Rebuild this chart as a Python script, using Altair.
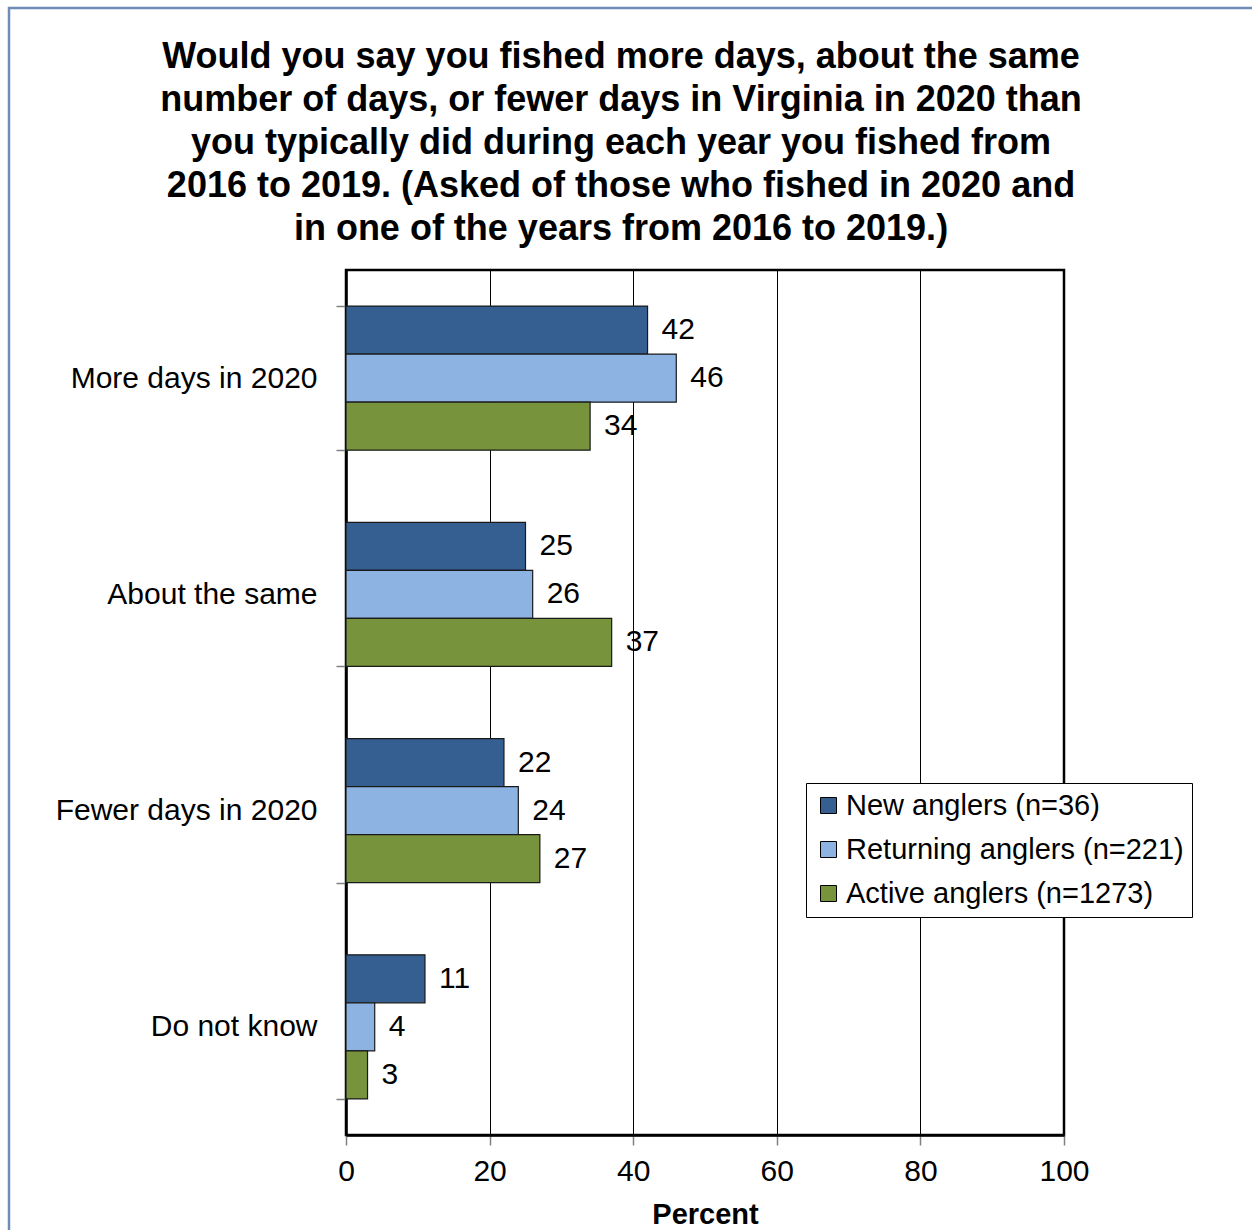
import altair as alt
import pandas as pd

categories = ["More days in 2020", "About the same", "Fewer days in 2020", "Do not know"]
groups = ["New anglers (n=36)", "Returning anglers (n=221)", "Active anglers (n=1273)"]
new_vals = [42, 25, 22, 11]
ret_vals = [46, 26, 24, 4]
act_vals = [34, 37, 27, 3]
colors = ["#365F91", "#8DB3E2", "#77933C"]
x_ticks = [0, 20, 40, 60, 80, 100]
title_lines = [
    "Would you say you fished more days, about the same",
    "number of days, or fewer days in Virginia in 2020 than",
    "you typically did during each year you fished from",
    "2016 to 2019. (Asked of those who fished in 2020 and",
    "in one of the years from 2016 to 2019.)",
]

rows = []
for g, vals in zip(groups, [new_vals, ret_vals, act_vals]):
    for c, v in zip(categories, vals):
        rows.append({"category": c, "group": g, "value": v})
df = pd.DataFrame(rows)

FONT = "Liberation Sans"

y_enc = alt.Y(
    "category:N",
    sort=categories,
    scale=alt.Scale(paddingInner=0.3333, paddingOuter=0.1667),
    axis=alt.Axis(
        title=None,
        labelFontSize=30,
        labelFont=FONT,
        labelColor="black",
        labelPadding=19,
        labelLimit=0,
        tickBand="extent",
        tickSize=10,
        tickColor="#808080",
        tickWidth=1.5,
        domainColor="black",
        domainWidth=2.5,
        grid=False,
    ),
)
yoff_enc = alt.YOffset("group:N", sort=groups, scale=alt.Scale(paddingInner=0, paddingOuter=0))

x_enc = alt.X(
    "value:Q",
    scale=alt.Scale(domain=[0, 100]),
    axis=alt.Axis(
        values=x_ticks,
        title="Percent",
        titleFontSize=29,
        titleFont=FONT,
        titleFontWeight="bold",
        titleColor="black",
        titlePadding=14,
        labelFontSize=30,
        labelFont=FONT,
        labelColor="black",
        labelPadding=11,
        labelFlush=False,
        labelOverlap=False,
        tickSize=10,
        tickColor="#808080",
        tickWidth=1.5,
        domainColor="black",
        domainWidth=2.5,
        grid=True,
        gridColor="black",
        gridWidth=1,
        gridOpacity=1,
    ),
)

base = alt.Chart(df).encode(y=y_enc, yOffset=yoff_enc)

bars = base.mark_bar(stroke="#1a1a1a", strokeWidth=1.2).encode(
    x=x_enc,
    color=alt.Color(
        "group:N",
        sort=groups,
        scale=alt.Scale(domain=groups, range=colors),
        legend=alt.Legend(
            title=None,
            orient="none",
            legendX=460,
            legendY=513,
            labelFontSize=29,
            labelFont=FONT,
            labelColor="black",
            labelLimit=0,
            symbolType="square",
            symbolSize=256,
            symbolStrokeColor="black",
            symbolStrokeWidth=1,
            symbolOpacity=1,
            rowPadding=14,
            labelOffset=3,
            padding=8,
            strokeColor="black",
            fillColor="white",
        ),
    ),
)

labels = base.mark_text(
    align="left", baseline="middle", dx=14, fontSize=30, font=FONT, color="black"
).encode(x="value:Q", text="value:Q")

border = alt.Chart(pd.DataFrame({"a": [0]})).mark_rect(
    fill="transparent", stroke="#6E8CB5", strokeWidth=2.5
).encode(
    x=alt.value(-337), x2=alt.value(1000), y=alt.value(-262), y2=alt.value(1000)
)

chart = alt.layer(border, bars, labels).properties(
    width=718,
    height=865,
    background="white",
    title=alt.TitleParams(
        text=title_lines,
        fontSize=36,
        font=FONT,
        fontWeight="bold",
        color="black",
        lineHeight=43,
        anchor="middle",
        frame="group",
        dx=-84,
        offset=-241,
    ),
    autosize=alt.AutoSizeParams(type="none"),
    padding={"left": 346, "top": 270, "right": 188, "bottom": 95},
).configure_view(
    stroke="black", strokeWidth=2.5
)

chart.save("out.html", embed_options={"renderer": "svg", "actions": False})
